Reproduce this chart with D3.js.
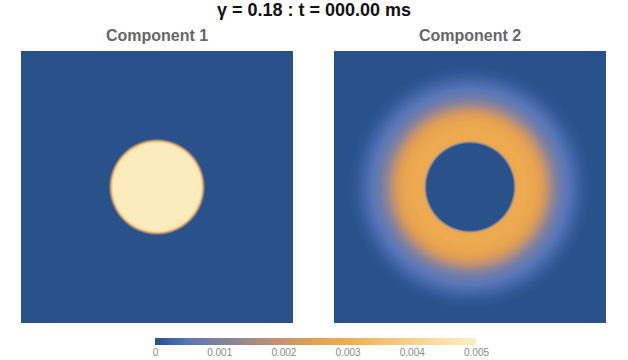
<!DOCTYPE html>
<html><head><meta charset="utf-8">
<script src="https://cdn.jsdelivr.net/npm/d3@7"></script>
<style>body{margin:0;background:#fff;font-family:"Liberation Sans",Arial,sans-serif}</style>
</head><body><svg id="c" width="628" height="360"></svg>
<script>
// ---- data ----
const titleText = "γ = 0.18 : t = 000.00 ms";
const panelTitles = ["Component 1", "Component 2"];
// radial profiles (radius in units of panel half-width, value)
const comp1Radius = [0, 0.30, 0.322, 0.332, 0.338, 0.345, 0.355, 1.5];
const comp1Value  = [0.0049, 0.0049, 0.0048, 0.0040, 0.0027, 0.0012, 0, 0];
const comp2Radius = [0, 0.318, 0.326, 0.336, 0.345, 0.404, 0.478, 0.529, 0.574, 0.618, 0.662, 0.721, 0.779, 0.838, 0.897, 1.5];
const comp2Value  = [0, 0, 0.0008, 0.0025, 0.0029, 0.0030, 0.0028, 0.0024, 0.0018, 0.0012, 0.0008, 0.0005, 0.0003, 0.0001, 0, 0];
// colour map
const cmapValues = [0, 0.00025, 0.0005, 0.001, 0.0015, 0.002, 0.0025, 0.003, 0.0035, 0.004, 0.0045, 0.005];
const cmapColors = ["#29518a", "#3d62a4", "#5876b8", "#7e80a0", "#a48b88", "#c8956c", "#e39f50", "#efab50", "#f3bf6e", "#f7d08c", "#fadfa8", "#fdefc2"];
const colorbarTicks = [0, 0.001, 0.002, 0.003, 0.004, 0.005];

const svg = d3.select("#c");
const defs = svg.append("defs");
const color = d3.scaleLinear().domain(cmapValues).range(cmapColors).interpolate(d3.interpolateRgb).clamp(true);

svg.append("text").attr("x", 314).attr("y", 16).attr("text-anchor", "middle")
  .attr("font-size", 18).attr("font-weight", "bold").attr("fill", "#111").text(titleText);

const panels = [
  {x0: 21, title: panelTitles[0], radius: comp1Radius, value: comp1Value},
  {x0: 334, title: panelTitles[1], radius: comp2Radius, value: comp2Value}
];
const panelSize = 272, panelTop = 51;
const maxR = 1.5;

panels.forEach((p, i) => {
  const cx = p.x0 + panelSize / 2, cy = panelTop + panelSize / 2;
  const rScale = d3.scaleLinear().domain([0, 1]).range([0, panelSize / 2]);
  const gid = "rg" + i;
  const g = defs.append("radialGradient").attr("id", gid).attr("gradientUnits", "userSpaceOnUse")
    .attr("cx", cx).attr("cy", cy).attr("r", rScale(maxR));
  g.selectAll("stop").data(p.radius).join("stop")
    .attr("offset", d => d / maxR)
    .attr("stop-color", (d, j) => color(p.value[j]));
  svg.append("rect").attr("x", p.x0).attr("y", panelTop).attr("width", panelSize).attr("height", panelSize)
    .attr("fill", `url(#${gid})`);
  svg.append("text").attr("x", cx).attr("y", 41).attr("text-anchor", "middle")
    .attr("font-size", 16).attr("font-weight", "bold").attr("fill", "#666").text(p.title);
});

// colour bar
const cbX = d3.scaleLinear().domain([0, 0.005]).range([155, 476]);
const lg = defs.append("linearGradient").attr("id", "cb").attr("gradientUnits", "userSpaceOnUse")
  .attr("x1", cbX(0)).attr("x2", cbX(0.005)).attr("y1", 0).attr("y2", 0);
lg.selectAll("stop").data(cmapValues).join("stop")
  .attr("offset", d => (cbX(d) - cbX(0)) / (cbX(0.005) - cbX(0)))
  .attr("stop-color", (d, j) => cmapColors[j]);
svg.append("rect").attr("x", cbX(0)).attr("y", 338).attr("width", cbX(0.005) - cbX(0)).attr("height", 7)
  .attr("fill", "url(#cb)");
const ax = svg.append("g").attr("transform", "translate(0,345)")
  .call(d3.axisBottom(cbX).tickValues(colorbarTicks).tickFormat(d => d === 0 ? "0" : d3.format(".3f")(d)).tickSize(0).tickPadding(4));
ax.select(".domain").remove();
ax.selectAll("text").attr("font-size", 10).attr("fill", "#888").attr("font-family", "Liberation Sans, Arial, sans-serif");
</script></body></html>
